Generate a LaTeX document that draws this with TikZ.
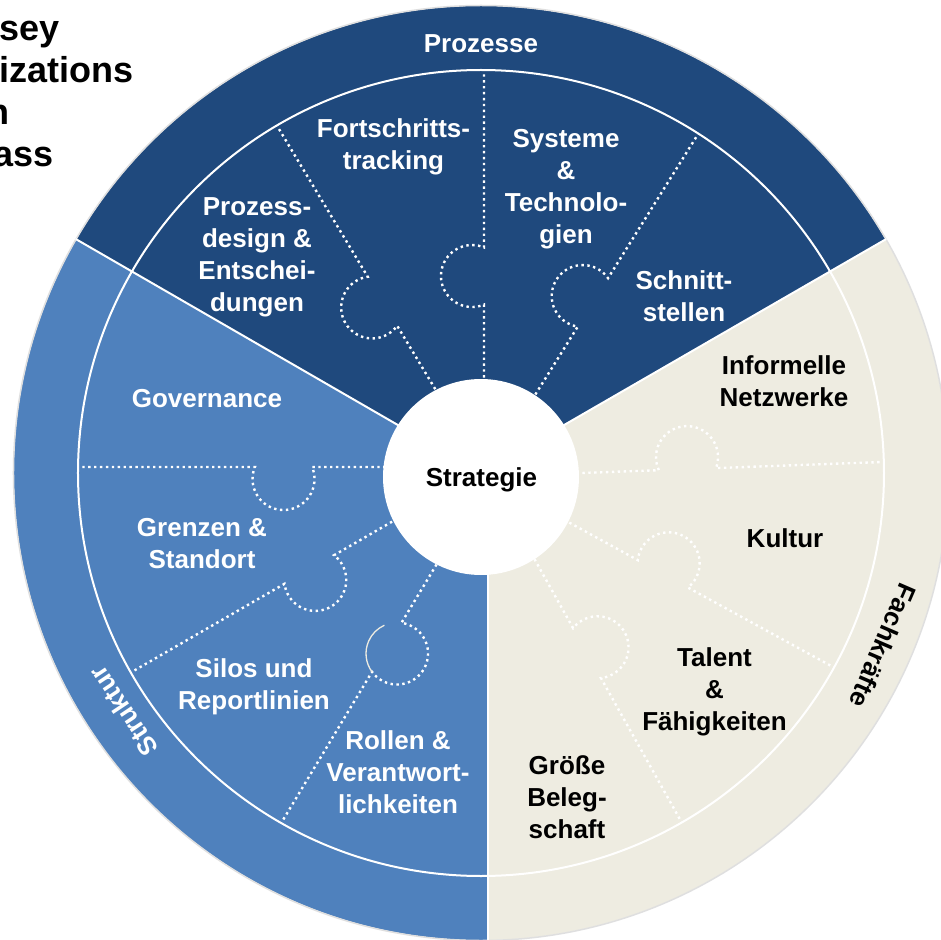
\documentclass[tikz,border=0pt]{standalone}
\usepackage{fontspec}
\setmainfont{Liberation Sans}
\definecolor{prozblue}{RGB}{31,73,125}
\definecolor{strkblue}{RGB}{79,129,189}
\definecolor{fachbeige}{RGB}{238,236,225}
\tikzset{
  lbl/.style={font=\bfseries\fontsize{26}{32}\selectfont, align=center, inner sep=0pt},
  wlbl/.style={lbl, text=white},
  blbl/.style={lbl, text=black},
  titletxt/.style={font=\bfseries\fontsize{36}{42}\selectfont, inner sep=0pt, text=black},
  dotline/.style={white, line width=2.4pt, dash pattern=on 2.4pt off 3.5pt},
  sepline/.style={white, line width=2pt},
}
% #1 angle, #2 perpendicular offset, #3 distance of knob along the ray
\newcommand\knobline[3]{%
  \begin{scope}[rotate=#1, yshift=#2pt]
    \draw[dotline] (60,0) -- ({#3-28.6},0) arc[start angle=202.8, end angle=-22.8, radius=31] -- (403,0);
  \end{scope}}
\begin{document}
\begin{tikzpicture}[x=1pt,y=1pt]
\useasboundingbox (-481,-467) rectangle (459,473);
\fill[white] (-481,-467) rectangle (459,473);
% title fragments
\node[titletxt, anchor=base east] (t1) at (-421.5,432) {sey};
\node[titletxt, anchor=base east] (t2) at (-347.5,390) {izations};
\node[titletxt, anchor=base east] (t3) at (-471.5,348) {n};
\node[titletxt, anchor=base east] (t4) at (-427.5,306) {ass};
% sectors
\fill[fachbeige] (0,0) circle (467);
\fill[strkblue] (0,0) -- (150:467) arc[start angle=150, end angle=270.86, radius=467] -- (7,0) -- cycle;
\fill[prozblue] (0,0) -- (30:467) arc[start angle=30, end angle=150, radius=467] -- cycle;
\draw[gray!25, line width=1.5pt] (0,0) circle (467.5);
% puzzle dividers
\knobline{121}{-4}{198}
\knobline{90}{-3}{197}
\knobline{58}{-4.5}{204}
\knobline{180}{-6}{197.5}
\knobline{210}{-2.3}{197}
\knobline{239}{9}{198}
\begin{scope}[rotate=239, yshift=9pt]
  \draw[fachbeige, line width=1.3pt] ({198+28.6},0) arc[start angle=-22.8, end angle=-125, radius=31];
\end{scope}
\knobline{299.2}{4.7}{209}
\knobline{331.3}{-1.1}{208}
\knobline{2.1}{-3.7}{206.5}
% ring and sector lines
\draw[sepline] (0,0) circle (403);
\draw[sepline] (0,0) -- (150:468);
\draw[sepline] (0,0) -- (30:468);
\draw[sepline] (7,-60) -- (7,-470);
% centre
\fill[white] (0,-4) circle (98);
\node[blbl] (strat) at (0.5,-7) {Strategie};
% ring labels
\node[wlbl] (proz) at (0,429) {Prozesse};
\node[wlbl, rotate=123.7] (strk) at (-357.5,-238.5) {Struktur};
\node[blbl, rotate=-113.3] (fach) at (402,-173) {Fachkräfte};
% Prozesse pieces
\node[wlbl] (pd) at (-224,216) {Prozess-\\design \&\\Entschei-\\dungen};
\node[wlbl] (ft) at (-87.5,326) {Fortschritts-\\tracking};
\node[wlbl] (st) at (85,284) {Systeme\\\&\\Technolo-\\gien};
\node[wlbl] (ss) at (203,176.5) {Schnitt-\\stellen};
% Struktur pieces
\node[wlbl] (gov) at (-274,74.5) {Governance};
\node[wlbl] (gs) at (-279,-70.5) {Grenzen \&\\Standort};
\node[wlbl] (sr) at (-227,-214) {Silos und\\Reportlinien};
\node[wlbl] (rv) at (-83,-299) {Rollen \&\\Verantwort-\\lichkeiten};
% Fachkraefte pieces
\node[blbl] (inf) at (303,92) {Informelle\\Netzwerke};
\node[blbl] (kul) at (304,-65.5) {Kultur};
\node[blbl] (tal) at (233.5,-219) {Talent\\\&\\Fähigkeiten};
\node[blbl] (gb) at (86,-324) {Größe\\Beleg-\\schaft};
\end{tikzpicture}
\end{document}
